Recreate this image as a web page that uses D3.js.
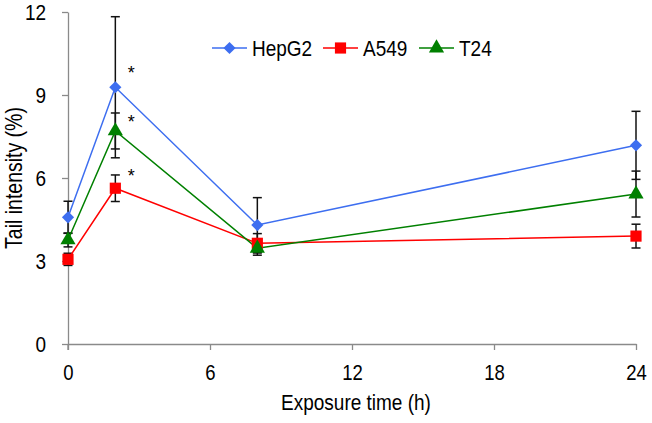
<!DOCTYPE html>
<html><head><meta charset="utf-8">
<script src="https://cdn.jsdelivr.net/npm/d3@7"></script>
<style>
html,body{margin:0;padding:0;background:#fff;}
text{font-family:"Liberation Sans",Arial,sans-serif;}
.tall{transform-box:fill-box;transform-origin:center;transform:scaleY(1.2);}
</style></head>
<body>
<svg id="chart" width="652" height="423"></svg>
<script>
const times = [0, 2, 8, 24];
const seriesNames = ["HepG2", "A549", "T24"];
const hepg2 = [4.58, 9.28, 4.30, 7.18];
const hepg2Err = [0.58, 2.55, 0.99, 1.23];
const a549 = [3.06, 5.63, 3.64, 3.90];
const a549Err = [0.22, 0.48, 0.35, 0.43];
const t24 = [3.76, 7.70, 3.46, 5.42];
const t24Err = [0.25, 0.65, 0.25, 0.83];
const xTicks = [0, 6, 12, 18, 24];
const yTicks = [0, 3, 6, 9, 12];
const starTime = 2;
const starValues = [9.95, 8.17, 6.22];

const colors = {HepG2: "#3d6ef0", A549: "#ff0000", T24: "#008000"};
const diamond = {draw(ctx, size) { const r = Math.sqrt(size) / 1.6; ctx.moveTo(0, -r); ctx.lineTo(r, 0); ctx.lineTo(0, r); ctx.lineTo(-r, 0); ctx.closePath(); }};
const shapes = {HepG2: diamond, A549: d3.symbolSquare, T24: d3.symbolTriangle};
const symSize = {HepG2: 95, A549: 125, T24: 100};

const series = [
  {name: "HepG2", vals: hepg2, err: hepg2Err},
  {name: "A549", vals: a549, err: a549Err},
  {name: "T24", vals: t24, err: t24Err}
];

const svg = d3.select("#chart");
const x = d3.scaleLinear().domain([0, 24]).range([68, 636]);
const y = d3.scaleLinear().domain([0, 12]).range([344, 12]);
const axisColor = "#8a8a8a";

// x axis
const gx = svg.append("g").attr("transform", "translate(0,344)")
  .call(d3.axisBottom(x).tickValues(xTicks).tickSize(6).tickPadding(16).tickSizeOuter(0));
gx.select(".domain").attr("stroke", axisColor).attr("stroke-width", 1.3);
gx.selectAll(".tick line").attr("stroke", axisColor).attr("stroke-width", 1.3);
gx.selectAll(".tick text").attr("font-size", 18.5).attr("fill", "#000").attr("class", "tall")
  .attr("font-family", "Liberation Sans, Arial, sans-serif");

// y axis
const gy = svg.append("g").attr("transform", "translate(68,0)")
  .call(d3.axisLeft(y).tickValues(yTicks).tickSize(6).tickPadding(16).tickSizeOuter(0));
gy.select(".domain").attr("stroke", axisColor).attr("stroke-width", 1.3);
gy.selectAll(".tick line").attr("stroke", axisColor).attr("stroke-width", 1.3);
gy.selectAll(".tick text").attr("font-size", 19).attr("fill", "#000").attr("class", "tall")
  .attr("font-family", "Liberation Sans, Arial, sans-serif");
svg.append("line").attr("x1", 68).attr("x2", 68).attr("y1", y(0)).attr("y2", y(0) + 6)
  .attr("stroke", axisColor).attr("stroke-width", 1.3);

// axis titles
svg.append("text").attr("x", 356).attr("y", 409).attr("text-anchor", "middle").attr("class", "tall")
  .attr("font-size", 19).text("Exposure time (h)");
svg.append("g").attr("transform", "translate(21,178) rotate(-90)")
  .append("text").attr("text-anchor", "middle").attr("class", "tall")
  .attr("font-size", 19.5).text("Tail intensity (%)");

// error bars
const eb = svg.append("g");
series.forEach(s => {
  times.forEach((t, i) => {
    const cx = x(t), lo = y(s.vals[i] - s.err[i]), hi = y(s.vals[i] + s.err[i]);
    eb.append("line").attr("x1", cx).attr("x2", cx).attr("y1", lo).attr("y2", hi)
      .attr("stroke", "#111").attr("stroke-width", 1.5);
    [lo, hi].forEach(yy => eb.append("line").attr("x1", cx - 4.5).attr("x2", cx + 4.5)
      .attr("y1", yy).attr("y2", yy).attr("stroke", "#111").attr("stroke-width", 1.5));
  });
});

// lines
const line = d3.line().x(d => x(d[0])).y(d => y(d[1]));
series.forEach(s => {
  svg.append("path").datum(times.map((t, i) => [t, s.vals[i]]))
    .attr("d", line).attr("fill", "none").attr("stroke", colors[s.name]).attr("stroke-width", 1.5);
});
// markers
series.forEach(s => {
  svg.append("g").selectAll("path").data(times.map((t, i) => [t, s.vals[i]])).join("path")
    .attr("transform", d => `translate(${x(d[0])},${y(d[1])})`)
    .attr("d", d3.symbol().type(shapes[s.name]).size(symSize[s.name]))
    .attr("fill", colors[s.name]);
});

// asterisks
starValues.forEach(v => {
  svg.append("text").attr("x", x(starTime) + 16).attr("y", y(v) + 10)
    .attr("text-anchor", "middle").attr("font-size", 18).text("*");
});

// legend
const legX = [212, 323, 419];
const legY = 48;
series.forEach((s, i) => {
  const g = svg.append("g");
  g.append("line").attr("x1", legX[i]).attr("x2", legX[i] + 35).attr("y1", legY).attr("y2", legY)
    .attr("stroke", colors[s.name]).attr("stroke-width", 1.5);
  g.append("path").attr("transform", `translate(${legX[i] + 17.5},${legY})`)
    .attr("d", d3.symbol().type(shapes[s.name]).size(symSize[s.name])).attr("fill", colors[s.name]);
  g.append("text").attr("x", legX[i] + 40).attr("y", legY + 7).attr("class", "tall")
    .attr("font-size", 19).text(s.name);
});
</script>
</body></html>
